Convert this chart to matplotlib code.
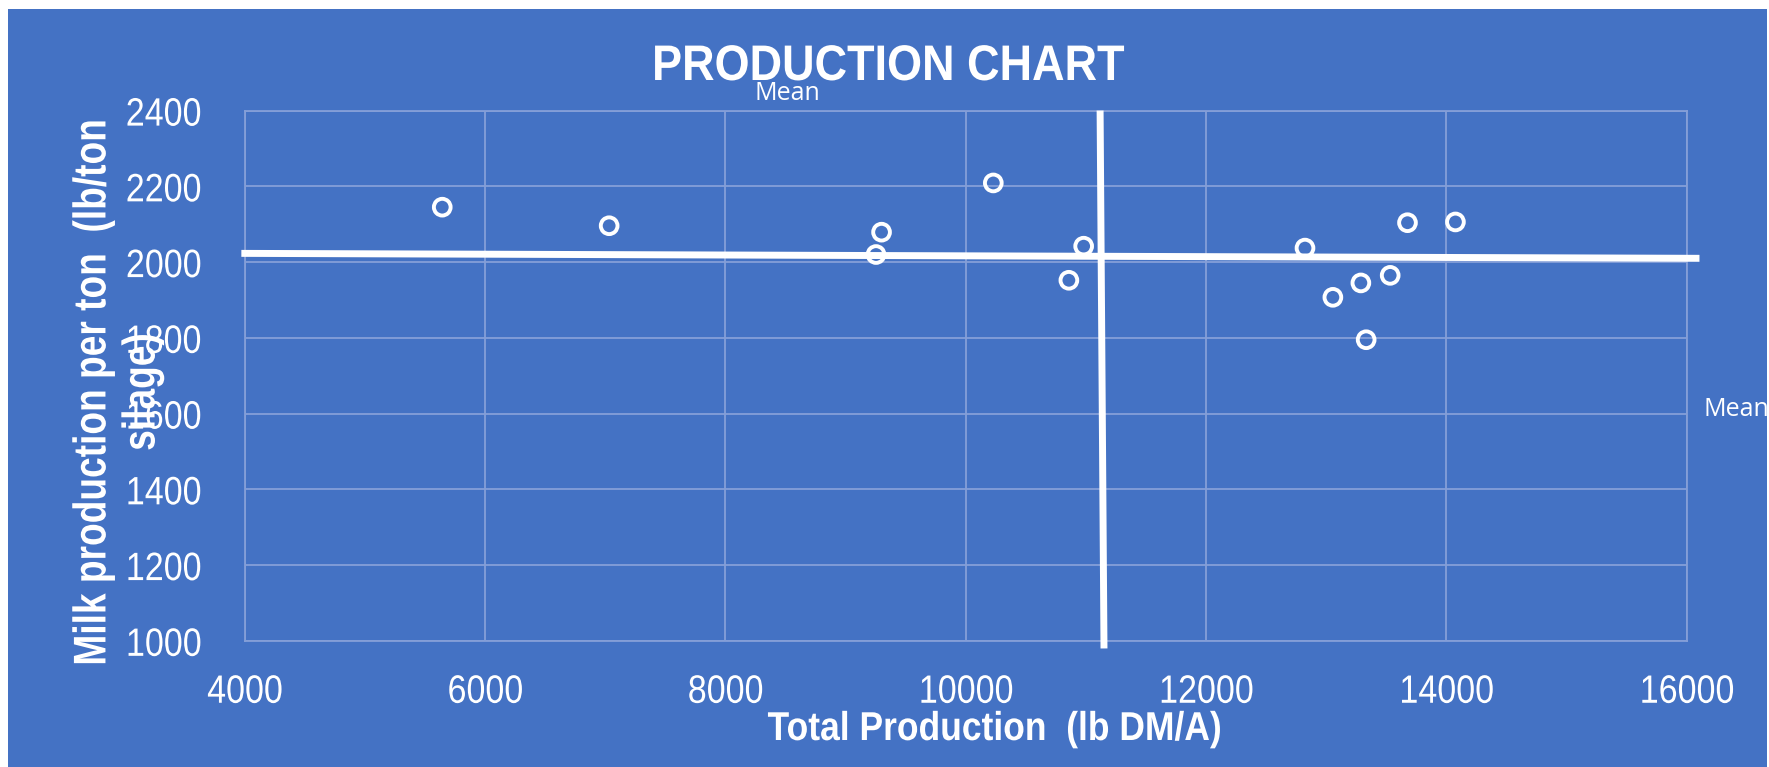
import matplotlib
matplotlib.use('Agg')
import matplotlib.pyplot as plt
from matplotlib.patches import Rectangle
from matplotlib.patheffects import AbstractPathEffect
from matplotlib.transforms import Affine2D

# values
total_production = [5643, 7032, 9299, 9253, 10229, 10981, 10858,
                    12823, 13676, 14075, 13532, 13288, 13055, 13332]
milk_per_ton = [2145, 2096, 2079, 2020, 2209, 2042, 1952,
                2037, 2104, 2106, 1965, 1945, 1907, 1795]

# hand drawn mean lines
mean_v_x = [11118, 11150]
mean_v_y = [2391, 989]
mean_h_x = [4000, 16077]
mean_h_y = [2023, 2010]

x_ticks = [4000, 6000, 8000, 10000, 12000, 14000, 16000]
y_ticks = [1000, 1200, 1400, 1600, 1800, 2000, 2200, 2400]

blue = '#4472C4'
grid_col = '#859fd8'
sans = ['Liberation Sans', 'DejaVu Sans']


class Squeeze(AbstractPathEffect):
    # narrow the glyphs around the centre of each text line
    def __init__(self, sx):
        super().__init__()
        self.sx = sx

    def draw_path(self, renderer, gc, tpath, affine, rgbFace=None):
        ext = tpath.get_extents()
        cx = (ext.x0 + ext.x1) / 2
        t = Affine2D().translate(-cx, 0).scale(self.sx, 1).translate(cx, 0) + affine
        renderer.draw_path(gc, tpath, t, rgbFace)


fig = plt.figure(figsize=(17.69, 7.67), dpi=100, facecolor='white')
fig.patches.append(Rectangle((8 / 1769, 0), 1759 / 1769, 1 - 9 / 767,
                             transform=fig.transFigure, facecolor=blue,
                             edgecolor='none', zorder=0))

ax = fig.add_axes([0.1384, 0.1645, 0.8151, 0.6913])
ax.set_zorder(1)
ax.set_facecolor('none')
ax.set_xlim(4000, 16000)
ax.set_ylim(1000, 2400)
ax.set_xticks(x_ticks)
ax.set_yticks(y_ticks)
ax.grid(True, color=grid_col, linewidth=1.3)
ax.set_axisbelow(True)
for s in ax.spines.values():
    s.set_color(grid_col)
    s.set_linewidth(1.3)
ax.tick_params(length=0, colors='white', labelsize=28.5)
ax.tick_params(axis='x', pad=23)
ax.tick_params(axis='y', pad=27)
for lab in ax.get_xticklabels() + ax.get_yticklabels():
    lab.set_family(sans)
    lab.set_path_effects([Squeeze(0.86)])

ax.plot(mean_h_x, mean_h_y, color='white', lw=5, clip_on=False, zorder=3)
ax.plot(mean_v_x, mean_v_y, color='white', lw=5, clip_on=False, zorder=3)
ax.scatter(total_production, milk_per_ton, s=145, facecolors='none',
           edgecolors='white', linewidths=2.8, zorder=4)

fig.text(0.502, 1 - 80 / 767, 'PRODUCTION CHART', ha='center', va='baseline',
         color='white', fontsize=36, fontweight='bold', family=sans,
         path_effects=[Squeeze(0.9)])
fig.text(994.5 / 1769, 1 - 740 / 767, 'Total Production  (lb DM/A)', ha='center',
         va='baseline', color='white', fontsize=29, fontweight='bold', family=sans,
         path_effects=[Squeeze(0.88)])
fig.text(118 / 1769, 0.489, 'Milk production per ton  (lb/ton\nsilage)', rotation=90,
         ha='center', va='center', multialignment='center', linespacing=1.15,
         color='white', fontsize=33, fontweight='bold', family=sans,
         path_effects=[Squeeze(0.81)])

fig.text(787 / 1769, 1 - 94 / 767, 'Mean', ha='center', va='center',
         color='white', fontsize=18, family=['Open Sans', 'DejaVu Sans'])
fig.text(1703 / 1769, 1 - 409 / 767, 'Mean', ha='left', va='center',
         color='white', fontsize=18, family=['Open Sans', 'DejaVu Sans'])

fig.savefig('out.png', dpi=100, facecolor='white')
